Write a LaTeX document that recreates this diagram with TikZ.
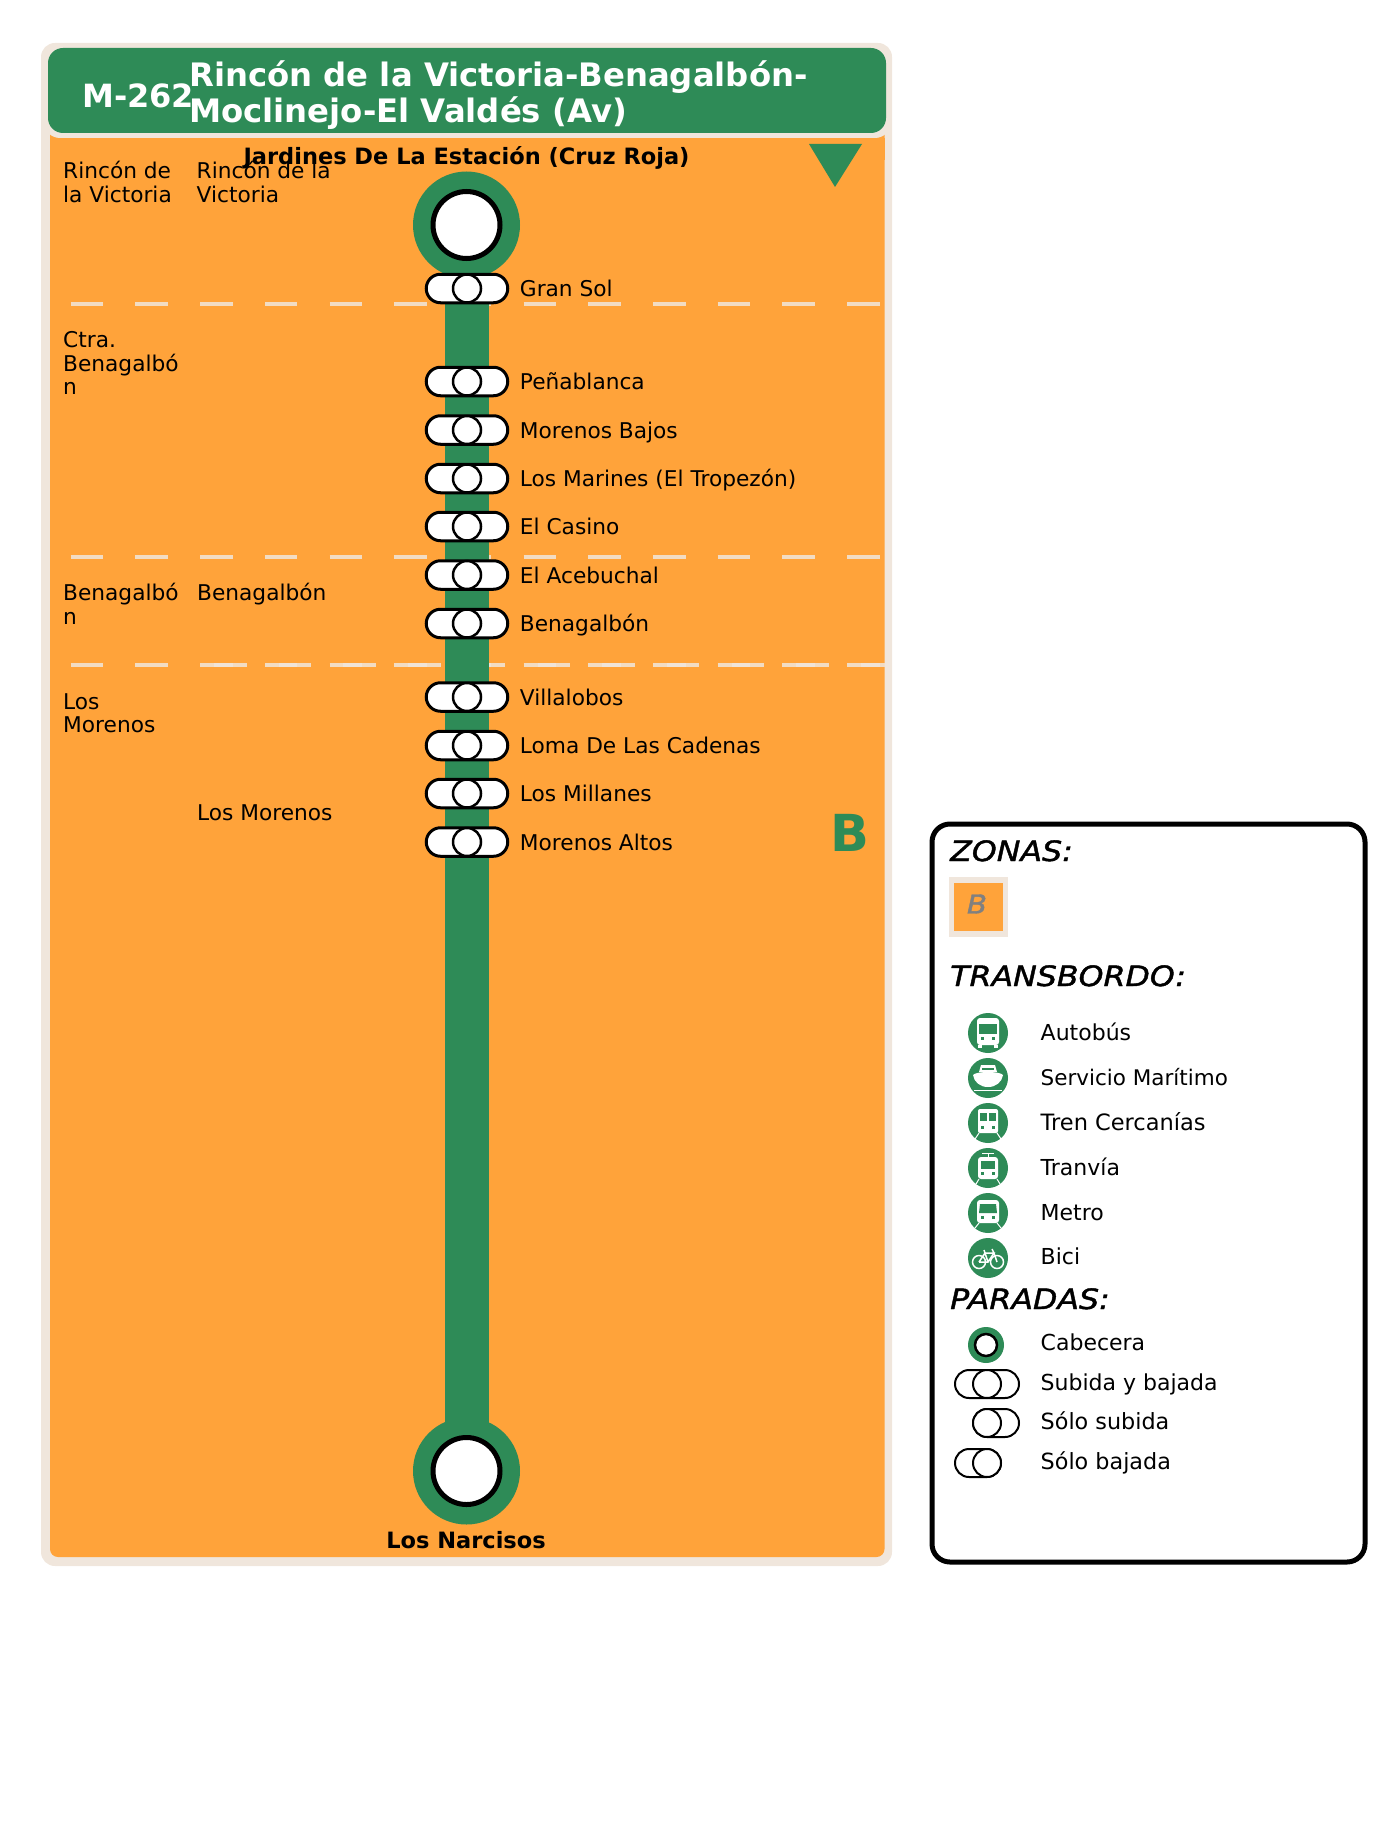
\documentclass[tikz,border=0pt]{standalone}
\usepackage{fontspec}
\setmainfont{DejaVu Sans}
\newfontfamily\headfont[ItalicFeatures={FakeStretch=1.13,FakeBold=1.5}]{DejaVu Sans}
\usetikzlibrary{positioning,calc,shapes.misc}

\definecolor{routegreen}{HTML}{2E8B57}
\definecolor{zoneorange}{HTML}{FFA33A}
\definecolor{zonebeige}{HTML}{F0E6DC}

\tikzset{
    stoppill/.style={draw=black, line width=3pt, fill=white, rounded rectangle, minimum width=81.5pt, minimum height=28.5pt, inner sep=0pt},
    stopring/.style={draw=black, line width=2.5pt, fill=white, circle, minimum size=28pt, inner sep=0pt},
    stoplabel/.style={inner sep=0pt, font=\fontsize{21.7}{24}\selectfont, text height=19pt, text depth=3pt},
    sidelabel/.style={inner sep=0pt, anchor=north west, align=left, font=\fontsize{21.7}{23.7}\selectfont},
    endlabel/.style={inner sep=0pt, font=\fontsize{22.5}{28}\bfseries\selectfont, text height=18pt, text depth=5pt},
    headstop/.style={circle, fill=routegreen, minimum size=107pt, inner sep=0pt},
    headring/.style={circle, draw=black, line width=5pt, fill=white, minimum size=67pt, inner sep=0pt},
    zoneline/.style={zonebeige, line width=4pt, opacity=0.85, dash pattern=on 32.5pt off 32.2pt},
    legendhead/.style={inner sep=0pt, anchor=base west, font=\fontsize{28}{32}\headfont\itshape\selectfont},
    transferdot/.style={circle, fill=routegreen, minimum size=40pt, inner sep=0pt},
    legendlabel/.style={inner sep=0pt, anchor=base west, font=\fontsize{22}{24}\selectfont},
    legendpill/.style={draw=black, line width=2pt, fill=white, rounded rectangle, minimum height=28pt, inner sep=0pt},
    legendring/.style={draw=black, line width=2pt, fill=white, circle, minimum size=28pt, inner sep=0pt},
    icon/.style={fill=white, draw=none},
    iconcut/.style={fill=routegreen, draw=none},
    iconline/.style={draw=white, line width=1pt}
}

\begin{document}
\begin{tikzpicture}[x=1pt,y=-1pt]
    \useasboundingbox (0,0) rectangle (1399,1830);

    % Zone panel
    \draw[fill=zonebeige, draw=none, rounded corners=14pt] (41,43) rectangle (892,1566);
    \draw[fill=zoneorange, draw=none, rounded corners=8pt] (50,120) rectangle (884.5,1557);
    \fill[zonebeige, rounded corners=16pt] (44,46) rectangle (891,138);
    \fill[zoneorange] (50,138) rectangle (884.5,160);

    % Header
    \node[fill=routegreen, rounded corners=15pt, minimum width=838pt, minimum height=85pt, inner sep=0pt] (header) at (467,90.5) {};
    \node[inner sep=0pt, anchor=base west, text=white, font=\fontsize{32}{36}\bfseries\selectfont] (linecode) at (82,108) {M-262};
    \node[inner sep=0pt, anchor=base west, text=white, font=\fontsize{32.3}{36}\bfseries\selectfont] (titleone) at (189,86.5) {Rincón de la Victoria-Benagalbón-};
    \node[inner sep=0pt, anchor=base west, text=white, font=\fontsize{32.3}{36}\bfseries\selectfont] (titletwo) at (189,123) {Moclinejo-El Valdés (Av)};

    % Zone limits
    \draw[zoneline] (70.7,303.7) -- (880,303.7);
    \draw[zoneline] (70.7,557.2) -- (880,557.2);
    \draw[zoneline] (70.7,664.8) -- (884.5,664.8);
    \draw[zoneline] (214,664.8) -- (884.5,664.8);

    % Direction and zone letter
    \fill[routegreen] (809,144) -- (862,144) -- (835,187) -- cycle;
    \node[inner sep=0pt, anchor=base east, text=routegreen, font=\fontsize{51}{60}\bfseries\selectfont] (zoneletter) at (869.5,851) {B};

    % Sectors and municipalities
    \node[sidelabel] (sectorone) at (63,161) {Rincón de\\la Victoria};
    \node[sidelabel] (townone) at (196.5,161) {Rincón de la\\Victoria};
    \node[sidelabel] (sectortwo) at (63,331) {Ctra.\\Benagalbó\\n};
    \node[sidelabel] (sectorthree) at (63,583) {Benagalbó\\n};
    \node[sidelabel] (townthree) at (197,583) {Benagalbón};
    \node[sidelabel] (sectorfour) at (63,693) {Los\\Morenos};
    \node[sidelabel] (townfour) at (197,804) {Los Morenos};

    % Route line
    \node[headstop] (firststop) at (466.5,225) {};
    \node[headstop] (laststop) at (466.5,1471) {};
    \draw[routegreen, line width=44pt] (firststop.center) -- (laststop.center);
    \node[headring] at (firststop) {};
    \node[headring] at (laststop) {};
    \node[endlabel] (firstname) at (466.5,158) {Jardines De La Estación (Cruz Roja)};
    \node[endlabel] (lastname) at (466,1542) {Los Narcisos};

    % Stops
    \node[stoppill] (gransol) at (467,288.5) {}; \node[stopring] at (gransol) {};
    \node[stoplabel, right=10.5pt of gransol] {Gran Sol};
    \node[stoppill] (penablanca) at (467,381.5) {}; \node[stopring] at (penablanca) {};
    \node[stoplabel, right=10.5pt of penablanca] {Peñablanca};
    \node[stoppill] (morenosbajos) at (467,430) {}; \node[stopring] at (morenosbajos) {};
    \node[stoplabel, right=10.5pt of morenosbajos] {Morenos Bajos};
    \node[stoppill] (marines) at (467,478.5) {}; \node[stopring] at (marines) {};
    \node[stoplabel, right=10.5pt of marines] {Los Marines (El Tropezón)};
    \node[stoppill] (casino) at (467,526.5) {}; \node[stopring] at (casino) {};
    \node[stoplabel, right=10.5pt of casino] {El Casino};
    \node[stoppill] (acebuchal) at (467,575) {}; \node[stopring] at (acebuchal) {};
    \node[stoplabel, right=10.5pt of acebuchal] {El Acebuchal};
    \node[stoppill] (benagalbon) at (467,623.5) {}; \node[stopring] at (benagalbon) {};
    \node[stoplabel, right=10.5pt of benagalbon] {Benagalbón};
    \node[stoppill] (villalobos) at (467,697) {}; \node[stopring] at (villalobos) {};
    \node[stoplabel, right=10.5pt of villalobos] {Villalobos};
    \node[stoppill] (cadenas) at (467,745.5) {}; \node[stopring] at (cadenas) {};
    \node[stoplabel, right=10.5pt of cadenas] {Loma De Las Cadenas};
    \node[stoppill] (millanes) at (467,793.5) {}; \node[stopring] at (millanes) {};
    \node[stoplabel, right=10.5pt of millanes] {Los Millanes};
    \node[stoppill] (morenosaltos) at (467,842) {}; \node[stopring] at (morenosaltos) {};
    \node[stoplabel, right=10.5pt of morenosaltos] {Morenos Altos};

    % Legend box
    \draw[line width=5pt, rounded corners=18pt, fill=white] (932,824) rectangle (1365,1562);
    \node[legendhead] (zonashead) at (950,861) {ZONAS:};
    \fill[zonebeige] (949,877) rectangle (1008,937);
    \node[fill=zoneorange, minimum width=49pt, minimum height=48pt, inner sep=0pt] (zoneswatch) at (978.5,907) {};
    \node[inner sep=0pt, text=gray, font=\fontsize{26}{32}\headfont\itshape\selectfont] at (977,904) {B};
    \node[legendhead] (transferhead) at (950,986) {TRANSBORDO:};
    \node[legendhead] (stopshead) at (950,1309) {PARADAS:};

    % Transfer icons
    \node[transferdot] (busdot) at (988,1033) {};
    \node[transferdot] (boatdot) at (988,1078) {};
    \node[transferdot] (traindot) at (988,1123) {};
    \node[transferdot] (tramdot) at (988,1168) {};
    \node[transferdot] (metrodot) at (988,1213) {};
    \node[transferdot] (bikedot) at (988,1258) {};
    \begin{scope}[shift={(busdot.center)}]
        \fill[icon, rounded corners=3pt] (-11,-15) rectangle (11,12);
        \fill[iconcut] (-9,-9) rectangle (9,1);
        \fill[iconcut] (-7,4) rectangle (-4,7); \fill[iconcut] (4,4) rectangle (7,7);
        \fill[icon] (-10,12) rectangle (-6,15); \fill[icon] (6,12) rectangle (10,15);
    \end{scope}
    \begin{scope}[shift={(boatdot.center)}]
        \fill[icon] (-15,-3) .. controls (-12,-7) and (12,-7) .. (15,-3) .. controls (14,4) and (8,9) .. (0,9) .. controls (-8,9) and (-14,4) .. (-15,-3) -- cycle;
        \fill[icon] (-9,-6) -- (-7,-13) -- (7,-13) -- (9,-6) -- cycle;
        \fill[iconcut] (-6,-10.5) rectangle (6,-8);
        \draw[iconline] (-14,12) -- (14,12);
    \end{scope}
    \begin{scope}[shift={(traindot.center)}]
        \fill[icon, rounded corners=2pt] (-10,-14) rectangle (10,10);
        \fill[iconcut] (-8,-10) rectangle (-1,-2); \fill[iconcut] (1,-10) rectangle (8,-2);
        \fill[iconcut] (-7,3) rectangle (-4,6); \fill[iconcut] (4,3) rectangle (7,6);
        \draw[iconline] (-9,10) -- (-13,16); \draw[iconline] (9,10) -- (13,16);
    \end{scope}
    \begin{scope}[shift={(tramdot.center)}]
        \fill[icon, rounded corners=3pt] (-10,-11) rectangle (10,11);
        \fill[iconcut] (-7,-7) rectangle (7,1);
        \fill[iconcut] (-7,4) rectangle (-4,7); \fill[iconcut] (4,4) rectangle (7,7);
        \draw[iconline] (-6,-15) -- (6,-15); \draw[iconline] (0,-15) -- (0,-11);
        \draw[iconline] (-9,11) -- (-12,16); \draw[iconline] (9,11) -- (12,16);
    \end{scope}
    \begin{scope}[shift={(metrodot.center)}]
        \fill[icon, rounded corners=3pt] (-11,-13) rectangle (11,10);
        \fill[iconcut] (-8,-9) -- (8,-9) -- (9,0) -- (-9,0) -- cycle;
        \fill[iconcut] (-7,3) rectangle (-4,6); \fill[iconcut] (4,3) rectangle (7,6);
        \draw[iconline] (-9,10) -- (-13,15); \draw[iconline] (9,10) -- (13,15);
    \end{scope}
    \begin{scope}[shift={(bikedot.center)}]
        \draw[iconline, line width=1.5pt] (-9,4) circle (6.5) (9,4) circle (6.5);
        \draw[iconline, line width=1.5pt] (-9,4) -- (-3,-5) -- (6,-5) -- (0,4) -- (-9,4) (-4,-8) -- (0,4) (6,-5) -- (9,4) (4,-9) -- (6,-5);
    \end{scope}
    \node[legendlabel] at (1040.5,1040) {Autobús};
    \node[legendlabel, font=\fontsize{21.5}{24}\selectfont] at (1040.5,1085) {Servicio Marítimo};
    \node[legendlabel, font=\fontsize{22.5}{24}\selectfont] at (1040.5,1130) {Tren Cercanías};
    \node[legendlabel] at (1040.5,1175) {Tranvía};
    \node[legendlabel] at (1040.5,1220) {Metro};
    \node[legendlabel] at (1040.5,1264.5) {Bici};

    % Stop types
    \node[circle, fill=routegreen, minimum size=36pt, inner sep=0pt] (headsample) at (986,1345) {};
    \node[circle, draw=black, line width=2.5pt, fill=white, minimum size=22pt, inner sep=0pt] at (headsample) {};
    \node[legendpill, minimum width=64pt] (bothsample) at (987,1384) {};
    \node[legendring] at (987,1384) {};
    \node[legendpill, minimum width=46pt] (upsample) at (996,1423) {};
    \node[legendring] at (987,1423) {};
    \node[legendpill, minimum width=46pt] (downsample) at (978,1463) {};
    \node[legendring] at (987,1463) {};
    \node[legendlabel] at (1040.5,1350.5) {Cabecera};
    \node[legendlabel] at (1040.5,1390) {Subida y bajada};
    \node[legendlabel, font=\fontsize{22.3}{24}\selectfont] at (1040.5,1429) {Sólo subida};
    \node[legendlabel, font=\fontsize{22.3}{24}\selectfont] at (1040.5,1469) {Sólo bajada};
\end{tikzpicture}
\end{document}
